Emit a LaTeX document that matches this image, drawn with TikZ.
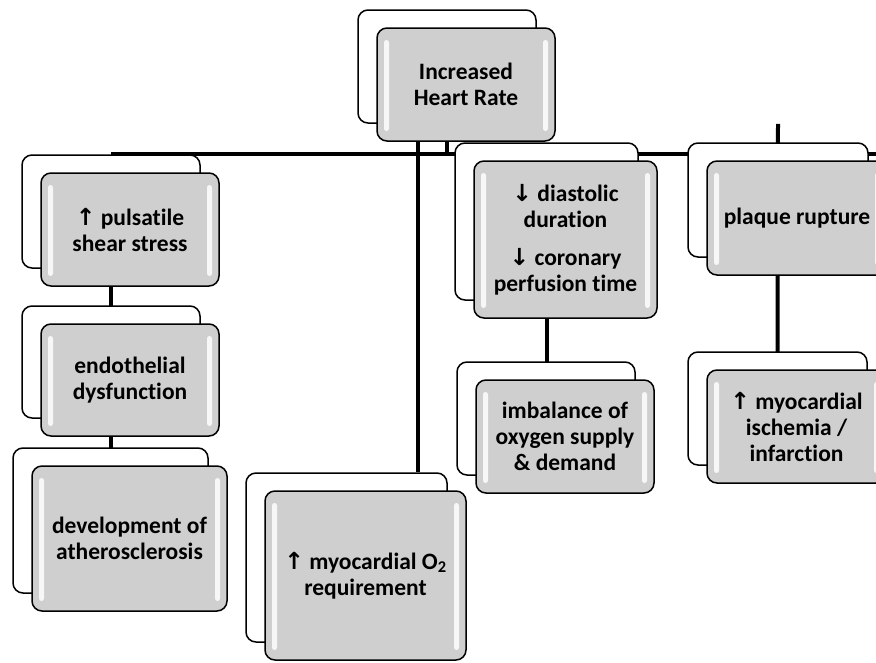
\documentclass[tikz,border=0pt]{standalone}
\usepackage{fontspec}
\setmainfont{Carlito}[Ligatures=NoCommon]
\newfontfamily\arrowfont{DejaVu Sans}
\usetikzlibrary{backgrounds}
\definecolor{boxgray}{RGB}{207,207,207}
\newcommand{\upar}{{\arrowfont ↑}}
\newcommand{\dnar}{{\arrowfont ↓}}

\begin{document}
\begin{tikzpicture}[
        x=1pt, y=-1pt,
        back/.style={draw, fill=white, rounded corners=10pt, line width=1.5pt, inner sep=0pt},
        front/.style={draw, fill=boxgray, rounded corners=10pt, line width=1.5pt, inner sep=0pt,
            align=center, font=\fontsize{23.5}{26}\selectfont\bfseries,
            path picture={
                \fill[white, draw=none, opacity=.85, rounded corners=2.5pt]
                    ([shift={(7pt,-12pt)}]path picture bounding box.north west) rectangle
                    ([shift={(12pt,10pt)}]path picture bounding box.south west);
                \fill[white, draw=none, opacity=.85, rounded corners=2.5pt]
                    ([shift={(-12pt,-12pt)}]path picture bounding box.north east) rectangle
                    ([shift={(-7pt,10pt)}]path picture bounding box.south east);
            }},
        box/.style 2 args={minimum width=#1, minimum height=#2},
        link/.style={line width=4pt},
    ]
    \useasboundingbox (0,0) rectangle (876,662);
    \coordinate (rim) at (876,0);

    % back boxes
    \node[back, box={178}{113}] (hrB) at (447,66.5) {};
    \node[back, box={178}{113}] (shearB) at (111,211.5) {};
    \node[back, box={178}{112}] (endoB) at (111,362) {};
    \node[back, box={195}{145}] (athB) at (110.5,520.5) {};
    \node[back, box={201}{169}] (otwoB) at (346.5,557.5) {};
    \node[back, box={183}{157}] (diastB) at (546.5,221.5) {};
    \node[back, box={178}{113}] (imbalB) at (546,418.5) {};
    \node[back, box={180}{114}] (plaqueB) at (778,200) {};
    \node[back, box={179}{113}] (ischB) at (777.5,408.5) {};

    % front boxes
    \node[front, box={178}{113}] (hr) at ([shift={(19,18)}]hrB.center) {Increased\\Heart Rate};
    \node[front, box={178}{113}] (shear) at ([shift={(19,18)}]shearB.center) {\upar{} pulsatile\\shear stress};
    \node[front, box={178}{112}] (endo) at ([shift={(19,18)}]endoB.center) {endothelial\\dysfunction};
    \node[front, box={195}{145}] (ath) at ([shift={(19,18)}]athB.center) {development of\\atherosclerosis};
    \node[front, box={201}{169}] (otwo) at ([shift={(19,18)}]otwoB.center) {\upar{} myocardial O\textsubscript{2}\\requirement};
    \node[front, box={183}{157}] (diast) at ([shift={(19,18)}]diastB.center) {\dnar{} diastolic\\duration\\[12pt]\dnar{} coronary\\perfusion time};
    \node[front, box={178}{113}] (imbal) at ([shift={(19,18)}]imbalB.center) {imbalance of\\oxygen supply\\\& demand};
    \node[front, box={180}{114}] (plaque) at ([shift={(19,18)}]plaqueB.center) {plaque rupture};
    \node[front, box={179}{113}] (isch) at ([shift={(19,18)}]ischB.center) {\upar{} myocardial\\ischemia /\\infarction};

    % connectors
    \begin{scope}[on background layer]
        \draw[link] (shearB.north) -- (shearB.north -| rim);
        \draw[link] (hrB.center) -- (hrB.center |- shearB.north);
        \draw[link] ([xshift=-29pt]hrB.center) -- ([xshift=-29pt]hrB.center |- otwoB.north);
        \draw[link] (shearB.center) -- (shearB.center |- athB.center);
        \draw[link] (diastB.center) -- (diastB.center |- imbalB.center);
        \draw[link] (plaqueB.center |- hrB.south) -- (ischB.center);
    \end{scope}
\end{tikzpicture}
\end{document}
